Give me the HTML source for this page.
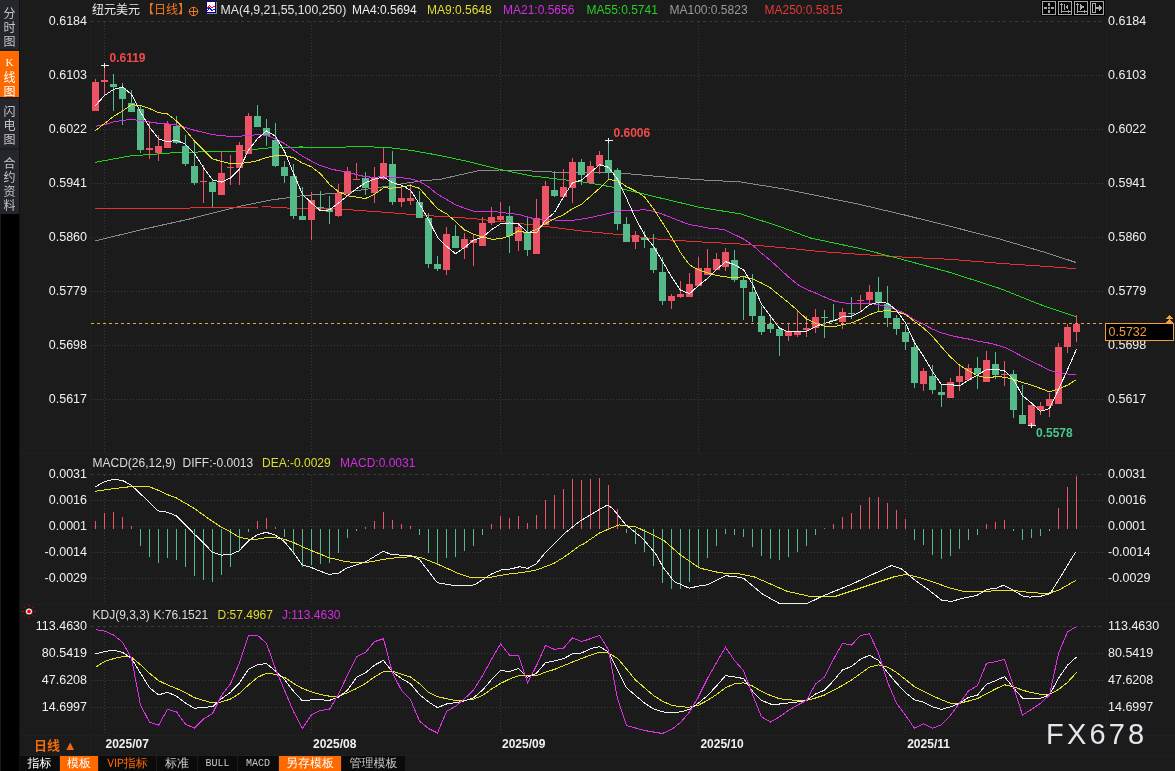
<!DOCTYPE html>
<html><head><meta charset="utf-8"><title>纽元美元 日线</title>
<style>
html,body{margin:0;padding:0;background:#1b1b1b;}
body{width:1175px;height:771px;position:relative;overflow:hidden;font-family:"Liberation Sans","Noto Sans CJK SC",sans-serif;}
#side{position:absolute;left:0;top:0;width:20px;height:214px;background:#25262b;}
#side div{position:absolute;left:0;width:19px;color:#b4b4b4;font-size:12px;line-height:13.5px;text-align:center;font-family:"WenQuanYi Zen Hei","Noto Sans CJK SC",sans-serif;}
#side .on{background:#ff6a00;color:#fff;}
#side .sep{height:1px;background:#1c1d21;}
#blk{position:absolute;left:1px;top:214px;width:18px;height:557px;background:#000;}
#tb{position:absolute;left:20px;top:756px;height:15px;display:flex;}
#tb div{height:15px;line-height:15px;font-size:12px;color:#c8c8c8;background:#0b0b0b;text-align:center;margin-right:1px;font-family:"WenQuanYi Zen Hei","Noto Sans CJK SC",sans-serif;}
#tb .o{background:#ff6a00;color:#fff;}
#tb .ot{color:#ff6a00;}
#tb .m{font-family:"Liberation Mono",monospace;font-size:10px;}
#dl{position:absolute;left:34px;top:737.5px;font-size:13px;font-weight:bold;color:#f06a10;line-height:16px;font-family:"Liberation Sans","Noto Sans CJK SC",sans-serif;}
#wm{position:absolute;left:1046px;top:716px;font-size:29px;letter-spacing:3.2px;color:#e4e6ee;font-family:"Liberation Sans",sans-serif;line-height:36px;}
svg{position:absolute;left:0;top:0;}
.ic{position:absolute;top:1px;width:13px;height:13px;border:1px solid #9a9a9a;background:#050505;box-shadow:0 0 0 1px #000;}
</style></head><body>
<svg width="1175" height="771" viewBox="0 0 1175 771" shape-rendering="crispEdges">
<line x1="91" y1="21.5" x2="1105" y2="21.5" stroke="#3a3a3a" stroke-dasharray="3 3"/>
<line x1="91" y1="75.5" x2="1105" y2="75.5" stroke="#3a3a3a" stroke-dasharray="1 2"/>
<line x1="91" y1="129.5" x2="1105" y2="129.5" stroke="#3a3a3a" stroke-dasharray="1 2"/>
<line x1="91" y1="183.5" x2="1105" y2="183.5" stroke="#3a3a3a" stroke-dasharray="1 2"/>
<line x1="91" y1="237.5" x2="1105" y2="237.5" stroke="#3a3a3a" stroke-dasharray="1 2"/>
<line x1="91" y1="291.5" x2="1105" y2="291.5" stroke="#3a3a3a" stroke-dasharray="1 2"/>
<line x1="91" y1="345.5" x2="1105" y2="345.5" stroke="#3a3a3a" stroke-dasharray="1 2"/>
<line x1="91" y1="399.5" x2="1105" y2="399.5" stroke="#3a3a3a" stroke-dasharray="1 2"/>
<line x1="91" y1="474.5" x2="1105" y2="474.5" stroke="#3a3a3a" stroke-dasharray="3 3"/>
<line x1="91" y1="500.5" x2="1105" y2="500.5" stroke="#3a3a3a" stroke-dasharray="1 2"/>
<line x1="91" y1="526.5" x2="1105" y2="526.5" stroke="#3a3a3a" stroke-dasharray="1 2"/>
<line x1="91" y1="552.5" x2="1105" y2="552.5" stroke="#3a3a3a" stroke-dasharray="1 2"/>
<line x1="91" y1="578.5" x2="1105" y2="578.5" stroke="#3a3a3a" stroke-dasharray="1 2"/>
<line x1="91" y1="626.5" x2="1105" y2="626.5" stroke="#3a3a3a" stroke-dasharray="3 3"/>
<line x1="91" y1="653.5" x2="1105" y2="653.5" stroke="#3a3a3a" stroke-dasharray="1 2"/>
<line x1="91" y1="680.5" x2="1105" y2="680.5" stroke="#3a3a3a" stroke-dasharray="1 2"/>
<line x1="91" y1="707.5" x2="1105" y2="707.5" stroke="#3a3a3a" stroke-dasharray="1 2"/>
<line x1="104.5" y1="22" x2="104.5" y2="453" stroke="#3a3a3a" stroke-dasharray="1 2"/>
<line x1="104.5" y1="475" x2="104.5" y2="604" stroke="#3a3a3a" stroke-dasharray="1 2"/>
<line x1="104.5" y1="627" x2="104.5" y2="736" stroke="#3a3a3a" stroke-dasharray="1 2"/>
<line x1="311.5" y1="22" x2="311.5" y2="453" stroke="#3a3a3a" stroke-dasharray="1 2"/>
<line x1="311.5" y1="475" x2="311.5" y2="604" stroke="#3a3a3a" stroke-dasharray="1 2"/>
<line x1="311.5" y1="627" x2="311.5" y2="736" stroke="#3a3a3a" stroke-dasharray="1 2"/>
<line x1="500.5" y1="22" x2="500.5" y2="453" stroke="#3a3a3a" stroke-dasharray="1 2"/>
<line x1="500.5" y1="475" x2="500.5" y2="604" stroke="#3a3a3a" stroke-dasharray="1 2"/>
<line x1="500.5" y1="627" x2="500.5" y2="736" stroke="#3a3a3a" stroke-dasharray="1 2"/>
<line x1="698.5" y1="22" x2="698.5" y2="453" stroke="#3a3a3a" stroke-dasharray="1 2"/>
<line x1="698.5" y1="475" x2="698.5" y2="604" stroke="#3a3a3a" stroke-dasharray="1 2"/>
<line x1="698.5" y1="627" x2="698.5" y2="736" stroke="#3a3a3a" stroke-dasharray="1 2"/>
<line x1="905.5" y1="22" x2="905.5" y2="453" stroke="#3a3a3a" stroke-dasharray="1 2"/>
<line x1="905.5" y1="475" x2="905.5" y2="604" stroke="#3a3a3a" stroke-dasharray="1 2"/>
<line x1="905.5" y1="627" x2="905.5" y2="736" stroke="#3a3a3a" stroke-dasharray="1 2"/>
<rect x="90" y="0" width="1" height="756" fill="#1f1f1f"/>
<rect x="1106" y="0" width="1" height="736" fill="#1f1f1f"/>
<rect x="20" y="453" width="1155" height="1" fill="#1f1f1f"/>
<rect x="20" y="604" width="1155" height="1" fill="#1f1f1f"/>
<rect x="20" y="735" width="1155" height="1" fill="#1f1f1f"/>
<rect x="20" y="755" width="1155" height="1" fill="#1f1f1f"/>
<polyline points="95.0,241.0 140.0,230.0 190.0,218.9 240.0,206.2 270.0,200.2 300.0,196.0 340.0,192.8 380.0,187.4 420.0,181.0 440.0,179.4 470.0,172.6 480.0,170.4 500.0,170.0 530.0,170.9 560.0,172.4 580.0,172.4 620.0,173.0 660.0,176.6 700.0,179.8 740.0,181.9 780.0,188.3 810.0,194.2 860.0,204.5 900.0,213.9 950.0,226.3 1000.0,239.1 1050.0,253.9 1076.0,262.5" fill="none" stroke="#8a8a8a" stroke-width="1"/>
<polyline points="95.0,208.3 190.0,208.3 191.0,207.2 262.0,207.0 263.0,206.2 270.0,206.2 272.0,207.7 340.0,209.1 380.0,211.9 420.0,215.1 470.0,218.3 500.0,221.5 540.0,225.7 580.0,230.8 620.0,234.7 660.0,239.4 700.0,241.9 740.0,244.0 780.0,247.4 820.0,251.5 860.0,254.4 900.0,256.9 950.0,259.3 1000.0,263.3 1050.0,266.7 1076.0,268.7" fill="none" stroke="#e8302e" stroke-width="1"/>
<polyline points="95.0,162.3 130.0,156.0 180.0,152.3 240.0,151.3 265.0,148.1 300.0,147.0 340.0,147.2 360.0,146.6 387.0,147.4 410.0,150.2 440.0,155.5 470.0,161.9 500.0,169.4 530.0,175.7 560.0,179.4 580.0,181.5 620.0,188.3 660.0,197.9 700.0,207.4 740.0,213.8 780.0,226.6 810.0,237.9 860.0,248.5 900.0,258.8 950.0,272.4 1000.0,288.5 1040.0,304.5 1076.0,316.8" fill="none" stroke="#22d022" stroke-width="1"/>
<rect x="95" y="79" width="1" height="32" fill="#ec5466"/>
<rect x="92" y="82" width="7" height="29" fill="#ec5466"/>
<rect x="104" y="65" width="1" height="30" fill="#ec5466"/>
<rect x="101" y="80" width="7" height="2" fill="#ec5466"/>
<rect x="113" y="74" width="1" height="37" fill="#55b98a"/>
<rect x="110" y="84" width="7" height="3" fill="#55b98a"/>
<rect x="122" y="83" width="1" height="42" fill="#55b98a"/>
<rect x="119" y="88" width="7" height="11" fill="#55b98a"/>
<rect x="131" y="90" width="1" height="22" fill="#55b98a"/>
<rect x="128" y="103" width="7" height="9" fill="#55b98a"/>
<rect x="140" y="106" width="1" height="47" fill="#55b98a"/>
<rect x="137" y="109" width="7" height="41" fill="#55b98a"/>
<rect x="149" y="122" width="1" height="37" fill="#ec5466"/>
<rect x="146" y="148" width="7" height="2" fill="#ec5466"/>
<rect x="158" y="135" width="1" height="26" fill="#ec5466"/>
<rect x="155" y="146" width="7" height="7" fill="#ec5466"/>
<rect x="167" y="121" width="1" height="27" fill="#ec5466"/>
<rect x="164" y="124" width="7" height="24" fill="#ec5466"/>
<rect x="176" y="116" width="1" height="28" fill="#55b98a"/>
<rect x="173" y="126" width="7" height="17" fill="#55b98a"/>
<rect x="185" y="135" width="1" height="31" fill="#55b98a"/>
<rect x="182" y="146" width="7" height="18" fill="#55b98a"/>
<rect x="194" y="141" width="1" height="44" fill="#55b98a"/>
<rect x="191" y="166" width="7" height="17" fill="#55b98a"/>
<rect x="203" y="165" width="1" height="38" fill="#ec5466"/>
<rect x="200" y="181" width="7" height="1" fill="#ec5466"/>
<rect x="212" y="180" width="1" height="27" fill="#55b98a"/>
<rect x="209" y="182" width="7" height="10" fill="#55b98a"/>
<rect x="221" y="151" width="1" height="44" fill="#ec5466"/>
<rect x="218" y="173" width="7" height="22" fill="#ec5466"/>
<rect x="230" y="155" width="1" height="30" fill="#ec5466"/>
<rect x="227" y="167" width="7" height="1" fill="#ec5466"/>
<rect x="239" y="142" width="1" height="43" fill="#ec5466"/>
<rect x="236" y="145" width="7" height="23" fill="#ec5466"/>
<rect x="248" y="113" width="1" height="41" fill="#ec5466"/>
<rect x="245" y="116" width="7" height="38" fill="#ec5466"/>
<rect x="257" y="105" width="1" height="22" fill="#55b98a"/>
<rect x="254" y="116" width="7" height="11" fill="#55b98a"/>
<rect x="266" y="119" width="1" height="27" fill="#55b98a"/>
<rect x="263" y="128" width="7" height="8" fill="#55b98a"/>
<rect x="275" y="123" width="1" height="44" fill="#55b98a"/>
<rect x="272" y="140" width="7" height="26" fill="#55b98a"/>
<rect x="284" y="161" width="1" height="22" fill="#55b98a"/>
<rect x="281" y="167" width="7" height="9" fill="#55b98a"/>
<rect x="293" y="164" width="1" height="55" fill="#55b98a"/>
<rect x="290" y="176" width="7" height="40" fill="#55b98a"/>
<rect x="302" y="187" width="1" height="33" fill="#55b98a"/>
<rect x="299" y="216" width="7" height="4" fill="#55b98a"/>
<rect x="311" y="192" width="1" height="48" fill="#ec5466"/>
<rect x="308" y="200" width="7" height="20" fill="#ec5466"/>
<rect x="320" y="191" width="1" height="20" fill="#55b98a"/>
<rect x="317" y="207" width="7" height="1" fill="#55b98a"/>
<rect x="329" y="196" width="1" height="28" fill="#55b98a"/>
<rect x="326" y="209" width="7" height="3" fill="#55b98a"/>
<rect x="338" y="184" width="1" height="33" fill="#ec5466"/>
<rect x="335" y="193" width="7" height="23" fill="#ec5466"/>
<rect x="347" y="167" width="1" height="27" fill="#ec5466"/>
<rect x="344" y="171" width="7" height="23" fill="#ec5466"/>
<rect x="356" y="163" width="1" height="17" fill="#ec5466"/>
<rect x="353" y="179" width="7" height="1" fill="#ec5466"/>
<rect x="365" y="172" width="1" height="23" fill="#55b98a"/>
<rect x="362" y="178" width="7" height="10" fill="#55b98a"/>
<rect x="374" y="167" width="1" height="36" fill="#ec5466"/>
<rect x="371" y="178" width="7" height="15" fill="#ec5466"/>
<rect x="383" y="148" width="1" height="32" fill="#ec5466"/>
<rect x="380" y="163" width="7" height="16" fill="#ec5466"/>
<rect x="392" y="151" width="1" height="54" fill="#55b98a"/>
<rect x="389" y="164" width="7" height="38" fill="#55b98a"/>
<rect x="401" y="186" width="1" height="21" fill="#ec5466"/>
<rect x="398" y="198" width="7" height="4" fill="#ec5466"/>
<rect x="410" y="184" width="1" height="21" fill="#ec5466"/>
<rect x="407" y="198" width="7" height="3" fill="#ec5466"/>
<rect x="419" y="191" width="1" height="27" fill="#55b98a"/>
<rect x="416" y="202" width="7" height="16" fill="#55b98a"/>
<rect x="428" y="213" width="1" height="55" fill="#55b98a"/>
<rect x="425" y="218" width="7" height="46" fill="#55b98a"/>
<rect x="437" y="256" width="1" height="15" fill="#55b98a"/>
<rect x="434" y="264" width="7" height="5" fill="#55b98a"/>
<rect x="446" y="227" width="1" height="48" fill="#ec5466"/>
<rect x="443" y="234" width="7" height="36" fill="#ec5466"/>
<rect x="455" y="225" width="1" height="23" fill="#55b98a"/>
<rect x="452" y="236" width="7" height="12" fill="#55b98a"/>
<rect x="464" y="233" width="1" height="26" fill="#ec5466"/>
<rect x="461" y="239" width="7" height="9" fill="#ec5466"/>
<rect x="473" y="235" width="1" height="31" fill="#ec5466"/>
<rect x="470" y="240" width="7" height="3" fill="#ec5466"/>
<rect x="482" y="217" width="1" height="29" fill="#ec5466"/>
<rect x="479" y="223" width="7" height="23" fill="#ec5466"/>
<rect x="491" y="207" width="1" height="18" fill="#ec5466"/>
<rect x="488" y="217" width="7" height="6" fill="#ec5466"/>
<rect x="500" y="202" width="1" height="19" fill="#ec5466"/>
<rect x="497" y="216" width="7" height="4" fill="#ec5466"/>
<rect x="509" y="206" width="1" height="47" fill="#55b98a"/>
<rect x="506" y="216" width="7" height="20" fill="#55b98a"/>
<rect x="518" y="225" width="1" height="26" fill="#ec5466"/>
<rect x="515" y="227" width="7" height="14" fill="#ec5466"/>
<rect x="527" y="218" width="1" height="38" fill="#55b98a"/>
<rect x="524" y="232" width="7" height="18" fill="#55b98a"/>
<rect x="536" y="199" width="1" height="55" fill="#ec5466"/>
<rect x="533" y="218" width="7" height="36" fill="#ec5466"/>
<rect x="545" y="181" width="1" height="44" fill="#ec5466"/>
<rect x="542" y="186" width="7" height="39" fill="#ec5466"/>
<rect x="554" y="171" width="1" height="26" fill="#55b98a"/>
<rect x="551" y="190" width="7" height="6" fill="#55b98a"/>
<rect x="563" y="169" width="1" height="28" fill="#ec5466"/>
<rect x="560" y="187" width="7" height="10" fill="#ec5466"/>
<rect x="572" y="158" width="1" height="45" fill="#ec5466"/>
<rect x="569" y="162" width="7" height="26" fill="#ec5466"/>
<rect x="581" y="159" width="1" height="26" fill="#55b98a"/>
<rect x="578" y="162" width="7" height="13" fill="#55b98a"/>
<rect x="590" y="161" width="1" height="22" fill="#ec5466"/>
<rect x="587" y="166" width="7" height="17" fill="#ec5466"/>
<rect x="599" y="151" width="1" height="23" fill="#ec5466"/>
<rect x="596" y="155" width="7" height="11" fill="#ec5466"/>
<rect x="608" y="140" width="1" height="39" fill="#55b98a"/>
<rect x="605" y="160" width="7" height="13" fill="#55b98a"/>
<rect x="617" y="168" width="1" height="62" fill="#55b98a"/>
<rect x="614" y="170" width="7" height="54" fill="#55b98a"/>
<rect x="626" y="217" width="1" height="25" fill="#55b98a"/>
<rect x="623" y="224" width="7" height="18" fill="#55b98a"/>
<rect x="635" y="231" width="1" height="18" fill="#ec5466"/>
<rect x="632" y="235" width="7" height="7" fill="#ec5466"/>
<rect x="644" y="231" width="1" height="17" fill="#55b98a"/>
<rect x="641" y="238" width="7" height="2" fill="#55b98a"/>
<rect x="653" y="234" width="1" height="39" fill="#55b98a"/>
<rect x="650" y="248" width="7" height="22" fill="#55b98a"/>
<rect x="662" y="257" width="1" height="48" fill="#55b98a"/>
<rect x="659" y="272" width="7" height="29" fill="#55b98a"/>
<rect x="671" y="294" width="1" height="15" fill="#ec5466"/>
<rect x="668" y="296" width="7" height="5" fill="#ec5466"/>
<rect x="680" y="281" width="1" height="17" fill="#ec5466"/>
<rect x="677" y="294" width="7" height="3" fill="#ec5466"/>
<rect x="689" y="273" width="1" height="24" fill="#ec5466"/>
<rect x="686" y="284" width="7" height="13" fill="#ec5466"/>
<rect x="698" y="257" width="1" height="29" fill="#ec5466"/>
<rect x="695" y="268" width="7" height="18" fill="#ec5466"/>
<rect x="707" y="249" width="1" height="26" fill="#ec5466"/>
<rect x="704" y="268" width="7" height="7" fill="#ec5466"/>
<rect x="716" y="253" width="1" height="17" fill="#ec5466"/>
<rect x="713" y="259" width="7" height="11" fill="#ec5466"/>
<rect x="725" y="248" width="1" height="23" fill="#ec5466"/>
<rect x="722" y="252" width="7" height="15" fill="#ec5466"/>
<rect x="734" y="250" width="1" height="32" fill="#55b98a"/>
<rect x="731" y="260" width="7" height="20" fill="#55b98a"/>
<rect x="743" y="277" width="1" height="43" fill="#55b98a"/>
<rect x="740" y="280" width="7" height="8" fill="#55b98a"/>
<rect x="752" y="274" width="1" height="48" fill="#55b98a"/>
<rect x="749" y="292" width="7" height="24" fill="#55b98a"/>
<rect x="761" y="306" width="1" height="29" fill="#55b98a"/>
<rect x="758" y="316" width="7" height="16" fill="#55b98a"/>
<rect x="770" y="316" width="1" height="17" fill="#55b98a"/>
<rect x="767" y="324" width="7" height="5" fill="#55b98a"/>
<rect x="779" y="329" width="1" height="27" fill="#55b98a"/>
<rect x="776" y="329" width="7" height="7" fill="#55b98a"/>
<rect x="788" y="324" width="1" height="17" fill="#ec5466"/>
<rect x="785" y="331" width="7" height="5" fill="#ec5466"/>
<rect x="797" y="310" width="1" height="27" fill="#ec5466"/>
<rect x="794" y="331" width="7" height="4" fill="#ec5466"/>
<rect x="806" y="316" width="1" height="21" fill="#ec5466"/>
<rect x="803" y="328" width="7" height="2" fill="#ec5466"/>
<rect x="815" y="309" width="1" height="24" fill="#ec5466"/>
<rect x="812" y="317" width="7" height="11" fill="#ec5466"/>
<rect x="824" y="310" width="1" height="28" fill="#55b98a"/>
<rect x="821" y="317" width="7" height="1" fill="#55b98a"/>
<rect x="833" y="304" width="1" height="17" fill="#55b98a"/>
<rect x="830" y="320" width="7" height="1" fill="#55b98a"/>
<rect x="842" y="308" width="1" height="21" fill="#ec5466"/>
<rect x="839" y="312" width="7" height="10" fill="#ec5466"/>
<rect x="851" y="297" width="1" height="22" fill="#55b98a"/>
<rect x="848" y="313" width="7" height="1" fill="#55b98a"/>
<rect x="860" y="295" width="1" height="15" fill="#ec5466"/>
<rect x="857" y="300" width="7" height="1" fill="#ec5466"/>
<rect x="869" y="285" width="1" height="18" fill="#ec5466"/>
<rect x="866" y="292" width="7" height="8" fill="#ec5466"/>
<rect x="878" y="277" width="1" height="34" fill="#55b98a"/>
<rect x="875" y="292" width="7" height="11" fill="#55b98a"/>
<rect x="887" y="286" width="1" height="41" fill="#55b98a"/>
<rect x="884" y="304" width="7" height="14" fill="#55b98a"/>
<rect x="896" y="315" width="1" height="20" fill="#55b98a"/>
<rect x="893" y="318" width="7" height="11" fill="#55b98a"/>
<rect x="905" y="325" width="1" height="25" fill="#55b98a"/>
<rect x="902" y="332" width="7" height="10" fill="#55b98a"/>
<rect x="914" y="340" width="1" height="48" fill="#55b98a"/>
<rect x="911" y="347" width="7" height="36" fill="#55b98a"/>
<rect x="923" y="368" width="1" height="23" fill="#ec5466"/>
<rect x="920" y="371" width="7" height="13" fill="#ec5466"/>
<rect x="932" y="365" width="1" height="29" fill="#55b98a"/>
<rect x="929" y="376" width="7" height="14" fill="#55b98a"/>
<rect x="941" y="384" width="1" height="23" fill="#55b98a"/>
<rect x="938" y="392" width="7" height="3" fill="#55b98a"/>
<rect x="950" y="378" width="1" height="20" fill="#ec5466"/>
<rect x="947" y="382" width="7" height="16" fill="#ec5466"/>
<rect x="959" y="365" width="1" height="26" fill="#ec5466"/>
<rect x="956" y="376" width="7" height="6" fill="#ec5466"/>
<rect x="968" y="364" width="1" height="16" fill="#ec5466"/>
<rect x="965" y="368" width="7" height="12" fill="#ec5466"/>
<rect x="977" y="357" width="1" height="32" fill="#55b98a"/>
<rect x="974" y="368" width="7" height="6" fill="#55b98a"/>
<rect x="986" y="351" width="1" height="31" fill="#ec5466"/>
<rect x="983" y="360" width="7" height="22" fill="#ec5466"/>
<rect x="995" y="352" width="1" height="27" fill="#55b98a"/>
<rect x="992" y="364" width="7" height="11" fill="#55b98a"/>
<rect x="1004" y="361" width="1" height="25" fill="#ec5466"/>
<rect x="1001" y="374" width="7" height="1" fill="#ec5466"/>
<rect x="1013" y="370" width="1" height="48" fill="#55b98a"/>
<rect x="1010" y="374" width="7" height="36" fill="#55b98a"/>
<rect x="1022" y="385" width="1" height="39" fill="#55b98a"/>
<rect x="1019" y="415" width="7" height="9" fill="#55b98a"/>
<rect x="1031" y="405" width="1" height="21" fill="#ec5466"/>
<rect x="1028" y="405" width="7" height="20" fill="#ec5466"/>
<rect x="1040" y="402" width="1" height="13" fill="#ec5466"/>
<rect x="1037" y="406" width="7" height="4" fill="#ec5466"/>
<rect x="1049" y="393" width="1" height="24" fill="#ec5466"/>
<rect x="1046" y="399" width="7" height="7" fill="#ec5466"/>
<rect x="1058" y="343" width="1" height="61" fill="#ec5466"/>
<rect x="1055" y="347" width="7" height="57" fill="#ec5466"/>
<rect x="1067" y="324" width="1" height="29" fill="#ec5466"/>
<rect x="1064" y="327" width="7" height="20" fill="#ec5466"/>
<rect x="1076" y="315" width="1" height="27" fill="#ec5466"/>
<rect x="1073" y="324" width="7" height="8" fill="#ec5466"/>
<polyline points="95.5,126.3 104.5,124.6 113.5,121.9 122.5,120.4 131.5,119.3 140.5,120.6 149.5,122.0 158.5,123.3 167.5,123.8 176.5,125.0 185.5,127.5 194.5,130.3 203.5,132.4 212.5,134.5 221.5,135.8 230.5,136.2 239.5,136.2 248.5,135.5 257.5,134.7 266.5,135.2 275.5,139.0 284.5,143.5 293.5,149.9 302.5,156.3 311.5,161.1 320.5,165.6 329.5,168.6 338.5,170.7 347.5,171.9 356.5,174.6 365.5,176.7 374.5,177.4 383.5,176.4 392.5,177.4 401.5,177.7 410.5,178.9 419.5,181.3 428.5,187.0 437.5,194.3 446.5,199.4 455.5,204.7 464.5,208.2 473.5,211.3 482.5,211.6 491.5,211.5 500.5,212.2 509.5,213.6 518.5,214.3 527.5,217.0 536.5,219.3 545.5,219.6 554.5,220.0 563.5,220.4 572.5,220.4 581.5,219.1 590.5,217.6 599.5,215.5 608.5,213.4 617.5,211.5 626.5,210.1 635.5,210.2 644.5,209.8 653.5,211.3 662.5,214.2 671.5,217.7 680.5,221.3 689.5,224.6 698.5,226.1 707.5,228.0 716.5,228.5 725.5,230.1 734.5,234.6 743.5,238.9 752.5,245.1 761.5,253.2 770.5,260.5 779.5,268.6 788.5,276.9 797.5,284.5 806.5,289.4 815.5,293.0 824.5,297.0 833.5,300.8 842.5,302.8 851.5,303.5 860.5,303.7 869.5,303.6 878.5,304.5 887.5,306.9 896.5,309.8 905.5,313.7 914.5,319.9 923.5,324.3 932.5,329.1 941.5,332.9 950.5,335.3 959.5,337.5 968.5,339.0 977.5,341.1 986.5,342.5 995.5,344.7 1004.5,347.4 1013.5,351.8 1022.5,356.7 1031.5,361.2 1040.5,365.5 1049.5,370.3 1058.5,372.9 1067.5,374.0 1076.5,374.3" fill="none" stroke="#d42ee0" stroke-width="1"/>
<polyline points="95.5,130.5 104.5,123.5 113.5,116.5 122.5,110.9 131.5,104.7 140.5,105.4 149.5,108.5 158.5,112.6 167.5,114.0 176.5,120.9 185.5,130.2 194.5,140.9 203.5,150.0 212.5,158.9 221.5,161.4 230.5,163.5 239.5,163.4 248.5,162.6 257.5,160.7 266.5,157.6 275.5,155.7 284.5,155.2 293.5,157.9 302.5,163.1 311.5,166.8 320.5,173.8 329.5,184.4 338.5,191.7 347.5,195.7 356.5,197.1 365.5,198.5 374.5,194.3 383.5,187.9 392.5,188.1 401.5,187.0 410.5,185.5 419.5,188.3 428.5,198.6 437.5,208.7 446.5,213.8 455.5,221.5 464.5,230.0 473.5,234.2 482.5,237.0 491.5,239.1 500.5,238.9 509.5,235.8 518.5,231.0 527.5,232.8 536.5,229.5 545.5,223.6 554.5,218.7 563.5,214.8 572.5,208.7 581.5,204.2 590.5,196.4 599.5,188.4 608.5,179.8 617.5,180.4 626.5,186.6 635.5,190.9 644.5,196.8 653.5,208.7 662.5,222.7 671.5,237.2 680.5,252.6 689.5,264.9 698.5,269.9 707.5,272.8 716.5,275.5 725.5,276.8 734.5,278.0 743.5,276.5 752.5,278.8 761.5,283.0 770.5,288.0 779.5,295.5 788.5,302.5 797.5,310.5 806.5,319.0 815.5,323.1 824.5,326.3 833.5,326.9 842.5,324.7 851.5,323.0 860.5,319.1 869.5,314.7 878.5,311.6 887.5,310.5 896.5,311.8 905.5,314.5 914.5,321.4 923.5,328.0 932.5,336.4 941.5,346.9 950.5,357.0 959.5,365.1 968.5,370.6 977.5,375.7 986.5,377.7 995.5,376.8 1004.5,377.1 1013.5,379.3 1022.5,382.5 1031.5,385.1 1040.5,388.4 1049.5,391.9 1058.5,388.9 1067.5,385.2 1076.5,379.5" fill="none" stroke="#e6e22a" stroke-width="1"/>
<polyline points="95.5,105.6 104.5,95.5 113.5,89.5 122.5,86.9 131.5,94.4 140.5,111.8 149.5,127.1 158.5,138.8 167.5,141.8 176.5,140.2 185.5,144.2 194.5,153.4 203.5,167.7 212.5,179.8 221.5,182.0 230.5,178.0 239.5,169.1 248.5,150.1 257.5,138.7 266.5,130.9 275.5,136.2 284.5,151.2 293.5,173.3 302.5,194.4 311.5,202.9 320.5,210.8 329.5,209.9 338.5,203.0 347.5,195.8 356.5,188.6 365.5,182.8 374.5,179.1 383.5,176.9 392.5,182.7 401.5,185.2 410.5,190.2 419.5,204.0 428.5,219.5 437.5,237.3 446.5,246.3 455.5,253.8 464.5,247.5 473.5,240.2 482.5,237.3 491.5,229.7 500.5,223.9 509.5,222.9 518.5,224.0 527.5,232.2 536.5,232.8 545.5,220.3 554.5,212.5 563.5,196.8 572.5,182.8 581.5,180.1 590.5,172.6 599.5,164.7 608.5,167.3 617.5,179.3 626.5,198.3 635.5,218.1 644.5,235.0 653.5,246.5 662.5,261.3 671.5,276.6 680.5,290.1 689.5,293.7 698.5,285.5 707.5,278.4 716.5,269.6 725.5,261.7 734.5,264.7 743.5,269.8 752.5,284.1 761.5,304.1 770.5,316.3 779.5,328.2 788.5,331.9 797.5,331.6 806.5,331.4 815.5,326.6 824.5,323.4 833.5,320.9 842.5,316.9 851.5,316.3 860.5,311.9 869.5,304.6 878.5,302.4 887.5,303.1 896.5,310.3 905.5,322.9 914.5,342.8 923.5,356.2 932.5,371.5 941.5,384.8 950.5,384.6 959.5,385.8 968.5,380.2 977.5,375.1 986.5,369.5 995.5,369.2 1004.5,370.8 1013.5,379.6 1022.5,395.6 1031.5,403.1 1040.5,411.2 1049.5,408.6 1058.5,389.4 1067.5,369.8 1076.5,349.2" fill="none" stroke="#f0f0f0" stroke-width="1"/>
<rect x="101" y="65" width="8" height="1" fill="#f0f0f0"/><rect x="104" y="63" width="1" height="5" fill="#f0f0f0"/>
<rect x="605" y="140" width="8" height="1" fill="#f0f0f0"/><rect x="608" y="138" width="1" height="5" fill="#f0f0f0"/>
<rect x="1028" y="425" width="8" height="1" fill="#f0f0f0"/><rect x="1031" y="423" width="1" height="5" fill="#f0f0f0"/>
<rect x="95" y="521" width="1" height="8" fill="#ec5466"/>
<rect x="104" y="513" width="1" height="16" fill="#ec5466"/>
<rect x="113" y="512" width="1" height="17" fill="#ec5466"/>
<rect x="122" y="517" width="1" height="12" fill="#ec5466"/>
<rect x="131" y="526" width="1" height="3" fill="#ec5466"/>
<rect x="140" y="529" width="1" height="17" fill="#55b98a"/>
<rect x="149" y="529" width="1" height="28" fill="#55b98a"/>
<rect x="158" y="529" width="1" height="34" fill="#55b98a"/>
<rect x="167" y="529" width="1" height="29" fill="#55b98a"/>
<rect x="176" y="529" width="1" height="31" fill="#55b98a"/>
<rect x="185" y="529" width="1" height="38" fill="#55b98a"/>
<rect x="194" y="529" width="1" height="47" fill="#55b98a"/>
<rect x="203" y="529" width="1" height="51" fill="#55b98a"/>
<rect x="212" y="529" width="1" height="53" fill="#55b98a"/>
<rect x="221" y="529" width="1" height="46" fill="#55b98a"/>
<rect x="230" y="529" width="1" height="38" fill="#55b98a"/>
<rect x="239" y="529" width="1" height="22" fill="#55b98a"/>
<rect x="248" y="529" width="1" height="3" fill="#55b98a"/>
<rect x="257" y="521" width="1" height="8" fill="#ec5466"/>
<rect x="266" y="518" width="1" height="11" fill="#ec5466"/>
<rect x="275" y="527" width="1" height="2" fill="#ec5466"/>
<rect x="284" y="529" width="1" height="8" fill="#55b98a"/>
<rect x="293" y="529" width="1" height="25" fill="#55b98a"/>
<rect x="302" y="529" width="1" height="38" fill="#55b98a"/>
<rect x="311" y="529" width="1" height="36" fill="#55b98a"/>
<rect x="320" y="529" width="1" height="35" fill="#55b98a"/>
<rect x="329" y="529" width="1" height="34" fill="#55b98a"/>
<rect x="338" y="529" width="1" height="24" fill="#55b98a"/>
<rect x="347" y="529" width="1" height="9" fill="#55b98a"/>
<rect x="356" y="529" width="1" height="2" fill="#55b98a"/>
<rect x="365" y="527" width="1" height="2" fill="#ec5466"/>
<rect x="374" y="521" width="1" height="8" fill="#ec5466"/>
<rect x="383" y="512" width="1" height="17" fill="#ec5466"/>
<rect x="392" y="520" width="1" height="9" fill="#ec5466"/>
<rect x="401" y="524" width="1" height="5" fill="#ec5466"/>
<rect x="410" y="526" width="1" height="3" fill="#ec5466"/>
<rect x="419" y="529" width="1" height="6" fill="#55b98a"/>
<rect x="428" y="529" width="1" height="24" fill="#55b98a"/>
<rect x="437" y="529" width="1" height="36" fill="#55b98a"/>
<rect x="446" y="529" width="1" height="29" fill="#55b98a"/>
<rect x="455" y="529" width="1" height="28" fill="#55b98a"/>
<rect x="464" y="529" width="1" height="22" fill="#55b98a"/>
<rect x="473" y="529" width="1" height="17" fill="#55b98a"/>
<rect x="482" y="529" width="1" height="6" fill="#55b98a"/>
<rect x="491" y="524" width="1" height="5" fill="#ec5466"/>
<rect x="500" y="516" width="1" height="13" fill="#ec5466"/>
<rect x="509" y="518" width="1" height="11" fill="#ec5466"/>
<rect x="518" y="516" width="1" height="13" fill="#ec5466"/>
<rect x="527" y="523" width="1" height="6" fill="#ec5466"/>
<rect x="536" y="515" width="1" height="14" fill="#ec5466"/>
<rect x="545" y="500" width="1" height="29" fill="#ec5466"/>
<rect x="554" y="495" width="1" height="34" fill="#ec5466"/>
<rect x="563" y="489" width="1" height="40" fill="#ec5466"/>
<rect x="572" y="479" width="1" height="50" fill="#ec5466"/>
<rect x="581" y="480" width="1" height="49" fill="#ec5466"/>
<rect x="590" y="479" width="1" height="50" fill="#ec5466"/>
<rect x="599" y="478" width="1" height="51" fill="#ec5466"/>
<rect x="608" y="485" width="1" height="44" fill="#ec5466"/>
<rect x="617" y="509" width="1" height="20" fill="#ec5466"/>
<rect x="626" y="529" width="1" height="4" fill="#55b98a"/>
<rect x="635" y="529" width="1" height="15" fill="#55b98a"/>
<rect x="644" y="529" width="1" height="23" fill="#55b98a"/>
<rect x="653" y="529" width="1" height="37" fill="#55b98a"/>
<rect x="662" y="529" width="1" height="54" fill="#55b98a"/>
<rect x="671" y="529" width="1" height="60" fill="#55b98a"/>
<rect x="680" y="529" width="1" height="60" fill="#55b98a"/>
<rect x="689" y="529" width="1" height="53" fill="#55b98a"/>
<rect x="698" y="529" width="1" height="39" fill="#55b98a"/>
<rect x="707" y="529" width="1" height="29" fill="#55b98a"/>
<rect x="716" y="529" width="1" height="17" fill="#55b98a"/>
<rect x="725" y="529" width="1" height="5" fill="#55b98a"/>
<rect x="734" y="529" width="1" height="6" fill="#55b98a"/>
<rect x="743" y="529" width="1" height="8" fill="#55b98a"/>
<rect x="752" y="529" width="1" height="18" fill="#55b98a"/>
<rect x="761" y="529" width="1" height="27" fill="#55b98a"/>
<rect x="770" y="529" width="1" height="30" fill="#55b98a"/>
<rect x="779" y="529" width="1" height="31" fill="#55b98a"/>
<rect x="788" y="529" width="1" height="28" fill="#55b98a"/>
<rect x="797" y="529" width="1" height="23" fill="#55b98a"/>
<rect x="806" y="529" width="1" height="17" fill="#55b98a"/>
<rect x="815" y="529" width="1" height="6" fill="#55b98a"/>
<rect x="824" y="528" width="1" height="1" fill="#ec5466"/>
<rect x="833" y="524" width="1" height="5" fill="#ec5466"/>
<rect x="842" y="517" width="1" height="12" fill="#ec5466"/>
<rect x="851" y="513" width="1" height="16" fill="#ec5466"/>
<rect x="860" y="505" width="1" height="24" fill="#ec5466"/>
<rect x="869" y="497" width="1" height="32" fill="#ec5466"/>
<rect x="878" y="497" width="1" height="32" fill="#ec5466"/>
<rect x="887" y="503" width="1" height="26" fill="#ec5466"/>
<rect x="896" y="510" width="1" height="19" fill="#ec5466"/>
<rect x="905" y="519" width="1" height="10" fill="#ec5466"/>
<rect x="914" y="529" width="1" height="11" fill="#55b98a"/>
<rect x="923" y="529" width="1" height="16" fill="#55b98a"/>
<rect x="932" y="529" width="1" height="26" fill="#55b98a"/>
<rect x="941" y="529" width="1" height="30" fill="#55b98a"/>
<rect x="950" y="529" width="1" height="27" fill="#55b98a"/>
<rect x="959" y="529" width="1" height="20" fill="#55b98a"/>
<rect x="968" y="529" width="1" height="11" fill="#55b98a"/>
<rect x="977" y="529" width="1" height="6" fill="#55b98a"/>
<rect x="986" y="524" width="1" height="5" fill="#ec5466"/>
<rect x="995" y="522" width="1" height="7" fill="#ec5466"/>
<rect x="1004" y="520" width="1" height="9" fill="#ec5466"/>
<rect x="1013" y="529" width="1" height="2" fill="#55b98a"/>
<rect x="1022" y="529" width="1" height="11" fill="#55b98a"/>
<rect x="1031" y="529" width="1" height="9" fill="#55b98a"/>
<rect x="1040" y="529" width="1" height="7" fill="#55b98a"/>
<rect x="1049" y="529" width="1" height="2" fill="#55b98a"/>
<rect x="1058" y="508" width="1" height="21" fill="#ec5466"/>
<rect x="1067" y="487" width="1" height="42" fill="#ec5466"/>
<rect x="1076" y="476" width="1" height="53" fill="#ec5466"/>
<polyline points="95.0,491.3 113.0,488.7 131.0,486.6 140.0,486.0 149.0,486.6 158.0,490.2 167.0,494.5 176.0,497.7 185.0,503.0 194.0,508.3 203.0,514.7 212.0,521.1 221.0,527.0 230.0,531.7 239.0,537.0 248.0,539.1 257.0,539.1 266.0,537.7 275.0,537.7 284.0,539.1 293.0,542.3 302.0,546.6 311.0,550.4 320.0,554.0 329.0,557.7 347.0,561.9 366.2,562.6 383.2,559.4 400.2,557.2 415.1,556.8 421.5,557.7 436.4,563.6 457.7,573.2 470.4,577.4 489.6,577.4 506.6,574.3 521.5,572.6 536.4,570.0 553.4,563.6 564.0,557.2 580.0,545.5 582.8,544.5 599.8,532.8 618.9,524.9 636.0,527.0 650.9,533.8 663.6,540.2 680.6,555.1 697.7,566.8 700.0,568.2 720.4,572.9 738.1,573.6 754.5,577.0 787.1,591.3 808.9,596.1 822.5,596.5 836.2,596.1 893.9,576.9 905.8,574.5 920.1,577.6 934.4,582.4 948.7,587.6 965.4,591.9 982.1,591.9 1001.1,590.0 1015.4,590.7 1029.7,592.4 1046.4,593.6 1058.3,590.5 1075.7,580.5" fill="none" stroke="#e6e22a" stroke-width="1"/>
<polyline points="95.0,487.0 104.5,481.7 113.0,479.6 122.0,480.2 131.0,484.9 140.0,493.4 149.0,501.9 158.0,510.9 167.0,512.1 176.0,515.7 185.0,524.3 194.0,533.8 203.0,542.3 212.0,551.9 221.0,555.1 230.0,554.7 239.0,550.9 248.0,541.3 257.0,534.9 266.0,532.3 275.0,534.9 284.0,541.3 293.0,551.9 302.0,564.7 311.0,567.4 320.0,571.1 329.0,574.3 338.5,573.2 347.0,567.9 366.2,561.5 383.2,551.3 391.7,554.7 410.9,555.5 419.4,559.4 437.4,582.8 457.7,586.0 474.7,584.9 491.7,573.8 502.3,569.6 510.9,568.9 519.4,566.8 527.9,568.3 536.4,563.6 544.9,553.0 564.0,533.8 580.0,521.1 597.7,510.4 607.2,505.1 612.6,508.3 625.3,524.3 642.3,538.1 655.1,553.0 663.6,567.9 674.3,581.7 689.1,588.1 700.0,585.9 706.2,584.9 708.2,584.5 725.9,575.7 736.8,577.0 743.6,578.4 762.6,594.1 779.0,603.3 807.6,603.3 822.5,596.1 851.1,584.5 891.5,565.5 901.0,568.6 907.0,573.3 915.3,580.5 927.2,588.8 941.5,600.0 951.1,601.4 963.0,598.3 977.3,595.2 986.8,589.5 996.4,588.1 1003.5,585.2 1013.0,590.0 1022.6,596.0 1029.7,597.1 1041.6,596.0 1050.0,593.6 1058.3,580.5 1075.7,551.9" fill="none" stroke="#f0f0f0" stroke-width="1"/>
<polyline points="95.5,667.2 104.5,661.5 113.5,658.7 122.5,656.6 131.5,657.2 140.5,664.7 149.5,673.2 158.5,680.6 167.5,684.9 176.5,688.5 185.5,692.8 194.5,697.7 203.5,700.4 212.5,703.0 221.5,701.9 230.5,699.1 239.5,693.4 248.5,684.9 257.5,677.4 266.5,673.2 275.5,674.3 284.5,677.4 293.5,683.4 302.5,688.5 311.5,691.9 320.5,694.5 329.5,696.2 338.5,696.2 347.5,692.8 356.5,688.5 365.5,683.4 374.5,677.0 383.5,671.5 392.5,671.1 401.5,674.3 410.5,677.0 419.5,683.8 428.5,692.3 437.5,696.6 446.5,698.7 455.5,700.4 464.5,700.4 473.5,699.1 482.5,695.5 491.5,689.1 500.5,683.4 509.5,679.1 518.5,675.7 527.5,675.7 536.5,675.7 545.5,672.1 554.5,669.4 563.5,665.7 572.5,662.0 581.5,658.5 590.5,655.1 599.5,652.3 608.5,653.0 617.5,658.3 626.5,668.9 635.5,680.0 644.5,687.7 653.5,695.5 662.5,701.3 671.5,705.1 680.5,706.8 689.5,707.2 698.5,705.1 707.5,700.4 716.5,694.5 725.5,687.7 734.5,683.8 743.5,682.8 752.5,686.0 761.5,691.3 770.5,695.5 779.5,698.7 788.5,699.8 797.5,700.4 806.5,700.4 815.5,698.0 824.5,695.0 833.5,690.2 842.5,685.5 851.5,680.0 860.5,673.6 869.5,667.1 878.5,664.8 887.5,667.1 896.5,672.4 905.5,679.5 914.5,686.7 923.5,691.4 932.5,695.7 941.5,699.8 950.5,703.3 959.5,703.3 968.5,701.0 977.5,698.6 986.5,693.8 995.5,689.0 1004.5,684.8 1013.5,686.7 1022.5,690.2 1031.5,692.6 1040.5,694.3 1049.5,694.3 1058.5,689.5 1067.5,682.4 1076.5,672.5" fill="none" stroke="#e6e22a" stroke-width="1"/>
<polyline points="95.5,654.0 104.5,651.5 113.5,650.2 122.5,652.3 131.5,658.3 140.5,673.2 149.5,687.7 158.5,694.9 167.5,692.3 176.5,696.2 185.5,703.0 194.5,708.3 203.5,707.2 212.5,706.8 221.5,698.7 230.5,692.3 239.5,682.8 248.5,669.4 257.5,664.7 266.5,663.6 275.5,671.1 284.5,679.6 293.5,691.3 302.5,700.9 311.5,699.8 320.5,699.8 329.5,700.4 338.5,697.0 347.5,690.2 356.5,677.4 365.5,672.8 374.5,665.1 383.5,660.4 392.5,672.1 401.5,678.5 410.5,683.8 419.5,694.5 428.5,701.9 437.5,707.7 446.5,704.0 455.5,702.6 464.5,700.9 473.5,697.7 482.5,690.2 491.5,679.6 500.5,670.6 509.5,671.5 518.5,668.5 527.5,677.4 536.5,673.2 545.5,662.6 554.5,660.9 563.5,658.7 572.5,653.8 581.5,653.0 590.5,648.7 599.5,646.6 608.5,651.9 617.5,670.0 626.5,687.7 635.5,695.5 644.5,703.0 653.5,708.9 662.5,711.9 671.5,712.6 680.5,711.9 689.5,709.4 698.5,703.0 707.5,695.5 716.5,686.0 725.5,675.7 734.5,677.0 743.5,678.5 752.5,691.3 761.5,700.4 770.5,704.0 779.5,704.0 788.5,703.0 797.5,701.9 806.5,700.4 815.5,694.0 824.5,690.2 833.5,680.7 842.5,670.0 851.5,666.4 860.5,659.3 869.5,655.2 878.5,660.5 887.5,672.4 896.5,683.1 905.5,692.6 914.5,699.8 923.5,702.1 932.5,706.9 941.5,709.3 950.5,706.9 959.5,703.3 968.5,697.4 977.5,695.0 986.5,684.3 995.5,680.7 1004.5,676.7 1013.5,687.9 1022.5,698.1 1031.5,698.1 1040.5,698.1 1049.5,695.0 1058.5,678.3 1067.5,665.2 1076.5,657.0" fill="none" stroke="#f0f0f0" stroke-width="1"/>
<polyline points="95.5,629.6 104.5,631.1 113.5,634.9 122.5,642.3 131.5,658.3 140.5,705.1 149.5,722.1 158.5,725.3 167.5,709.4 176.5,711.9 185.5,724.3 194.5,728.1 203.5,718.9 212.5,713.6 221.5,695.5 230.5,683.8 239.5,662.6 248.5,635.3 257.5,635.3 266.5,643.4 275.5,668.9 284.5,690.2 293.5,711.5 302.5,728.5 311.5,714.7 320.5,710.4 329.5,709.4 338.5,694.0 347.5,675.3 356.5,656.6 365.5,652.3 374.5,641.7 383.5,638.7 392.5,673.2 401.5,690.2 410.5,699.8 419.5,721.1 428.5,728.5 437.5,733.0 446.5,711.5 455.5,706.2 464.5,698.7 473.5,690.2 482.5,675.7 491.5,659.4 500.5,643.8 509.5,655.1 518.5,655.7 527.5,682.8 536.5,665.7 545.5,645.5 554.5,649.4 563.5,648.1 572.5,637.8 581.5,641.6 590.5,638.7 599.5,635.3 608.5,649.8 617.5,698.7 626.5,725.5 635.5,728.0 644.5,730.5 653.5,732.0 662.5,733.5 671.5,729.5 680.5,722.5 689.5,712.0 698.5,696.6 707.5,678.5 716.5,662.6 725.5,647.2 734.5,660.4 743.5,670.6 752.5,694.5 761.5,716.8 770.5,722.1 779.5,716.8 788.5,710.4 797.5,705.1 806.5,700.4 815.5,684.0 824.5,677.1 833.5,659.3 842.5,643.3 851.5,645.0 860.5,635.5 869.5,633.8 878.5,653.3 887.5,681.9 896.5,703.3 905.5,715.2 914.5,728.3 923.5,723.6 932.5,728.3 941.5,724.8 950.5,715.2 959.5,703.3 968.5,691.0 977.5,685.5 986.5,663.3 995.5,661.7 1004.5,659.3 1013.5,686.7 1022.5,715.2 1031.5,709.3 1040.5,703.3 1049.5,695.0 1058.5,653.3 1067.5,631.9 1076.5,626.5" fill="none" stroke="#e030e8" stroke-width="1"/>
<line x1="91" y1="323.5" x2="1104" y2="323.5" stroke="#f0a040" stroke-dasharray="3 3"/>
<polygon points="1165,319 1169,315 1173,319" fill="#f0a040"/><polygon points="1165,323 1169,319 1173,323" fill="#f0a040"/>
<rect x="0" y="0" width="20" height="214" fill="#25262b"/>
<rect x="0" y="49" width="20" height="2" fill="#1d1e22"/>
<rect x="0" y="97" width="20" height="2" fill="#1d1e22"/>
<rect x="0" y="148" width="20" height="2" fill="#1d1e22"/>
<rect x="0" y="51" width="19" height="46" fill="#ff6a00"/>
<rect x="1" y="214" width="18" height="557" fill="#000"/>
<rect x="19" y="0" width="1" height="771" fill="#111"/>
<circle cx="193.5" cy="11.5" r="4.2" fill="none" stroke="#f07820" stroke-width="1" shape-rendering="auto"/>
<rect x="189" y="11" width="9" height="1" fill="#f07820"/><rect x="193" y="7" width="1" height="9" fill="#f07820"/>
<rect x="207" y="2" width="10" height="12" fill="#888"/>
<rect x="206" y="1" width="10" height="12" fill="#00008c"/>
<rect x="207" y="2" width="8" height="10" fill="#ffffff"/>
<polyline points="207,9 209.5,5.5 212,8 214.5,6" fill="none" stroke="#ff0000" stroke-width="1"/>
<polyline points="207,11 209.5,8 212,10.5 214.5,9" fill="none" stroke="#0000ff" stroke-width="1"/>
<rect x="1041" y="0" width="16" height="16" fill="#000"/>
<rect x="1042.5" y="1.5" width="13" height="13" fill="#050505" stroke="#a8a8a8" stroke-width="1"/>
<rect x="1057" y="0" width="16" height="16" fill="#000"/>
<rect x="1058.5" y="1.5" width="13" height="13" fill="#050505" stroke="#a8a8a8" stroke-width="1"/>
<rect x="1073" y="0" width="16" height="16" fill="#000"/>
<rect x="1074.5" y="1.5" width="13" height="13" fill="#050505" stroke="#a8a8a8" stroke-width="1"/>
<rect x="1089" y="0" width="16" height="16" fill="#000"/>
<rect x="1090.5" y="1.5" width="13" height="13" fill="#050505" stroke="#a8a8a8" stroke-width="1"/>
<rect x="1048" y="3" width="2" height="3" fill="#a8a8a8"/>
<rect x="1048" y="7" width="2" height="2" fill="#a8a8a8"/>
<rect x="1048" y="10" width="2" height="3" fill="#a8a8a8"/>
<rect x="1044" y="7" width="3" height="2" fill="#a8a8a8"/>
<rect x="1051" y="7" width="3" height="2" fill="#a8a8a8"/>
<rect x="1061" y="3" width="1" height="10" fill="#a8a8a8"/><rect x="1061" y="11" width="9" height="1" fill="#a8a8a8"/>
<polygon points="1059.5,5 1061.5,2.5 1063.5,5" fill="#a8a8a8"/><polygon points="1068,9.5 1070.5,11.5 1068,13.5" fill="#a8a8a8"/>
<rect x="1077" y="3" width="1" height="10" fill="#a8a8a8"/><rect x="1077" y="11" width="9" height="1" fill="#a8a8a8"/>
<polygon points="1075.5,5 1077.5,2.5 1079.5,5" fill="#a8a8a8"/><polygon points="1084,9.5 1086.5,11.5 1084,13.5" fill="#a8a8a8"/>
<rect x="1064" y="4" width="1" height="6" fill="#a8a8a8"/><polygon points="1068,4 1065.5,7 1068,10" fill="#a8a8a8"/>
<polygon points="1080,4 1084.5,7 1080,10" fill="#a8a8a8"/>
<rect x="1092.5" y="3.5" width="3" height="9" fill="none" stroke="#a8a8a8"/><rect x="1096" y="7" width="4" height="2" fill="#a8a8a8"/><polygon points="1099,5 1102,8 1099,11" fill="#a8a8a8"/>
<g shape-rendering="auto"><circle cx="29" cy="611.5" r="3.6" fill="#fff" stroke="#000" stroke-width="0.8"/><circle cx="29" cy="611.5" r="1.9" fill="#ff0000"/>
<line x1="34.20" y1="611.50" x2="35.80" y2="611.50" stroke="#ff0000" stroke-width="0.9"/>
<line x1="32.68" y1="615.18" x2="33.81" y2="616.31" stroke="#ff0000" stroke-width="0.9"/>
<line x1="29.00" y1="616.70" x2="29.00" y2="618.30" stroke="#ff0000" stroke-width="0.9"/>
<line x1="25.32" y1="615.18" x2="24.19" y2="616.31" stroke="#ff0000" stroke-width="0.9"/>
<line x1="23.80" y1="611.50" x2="22.20" y2="611.50" stroke="#ff0000" stroke-width="0.9"/>
<line x1="25.32" y1="607.82" x2="24.19" y2="606.69" stroke="#ff0000" stroke-width="0.9"/>
<line x1="29.00" y1="606.30" x2="29.00" y2="604.70" stroke="#ff0000" stroke-width="0.9"/>
<line x1="32.68" y1="607.82" x2="33.81" y2="606.69" stroke="#ff0000" stroke-width="0.9"/>
</g>
<g font-family="Liberation Sans, Noto Sans CJK SC, sans-serif">
<text x="87" y="25.2" fill="#f0f0f0" font-size="12.5" text-anchor="end" font-weight="normal" >0.6184</text>
<text x="1108" y="25.2" fill="#f0f0f0" font-size="12.5" text-anchor="start" font-weight="normal" >0.6184</text>
<text x="87" y="79.2" fill="#f0f0f0" font-size="12.5" text-anchor="end" font-weight="normal" >0.6103</text>
<text x="1108" y="79.2" fill="#f0f0f0" font-size="12.5" text-anchor="start" font-weight="normal" >0.6103</text>
<text x="87" y="133.2" fill="#f0f0f0" font-size="12.5" text-anchor="end" font-weight="normal" >0.6022</text>
<text x="1108" y="133.2" fill="#f0f0f0" font-size="12.5" text-anchor="start" font-weight="normal" >0.6022</text>
<text x="87" y="187.2" fill="#f0f0f0" font-size="12.5" text-anchor="end" font-weight="normal" >0.5941</text>
<text x="1108" y="187.2" fill="#f0f0f0" font-size="12.5" text-anchor="start" font-weight="normal" >0.5941</text>
<text x="87" y="241.2" fill="#f0f0f0" font-size="12.5" text-anchor="end" font-weight="normal" >0.5860</text>
<text x="1108" y="241.2" fill="#f0f0f0" font-size="12.5" text-anchor="start" font-weight="normal" >0.5860</text>
<text x="87" y="295.2" fill="#f0f0f0" font-size="12.5" text-anchor="end" font-weight="normal" >0.5779</text>
<text x="1108" y="295.2" fill="#f0f0f0" font-size="12.5" text-anchor="start" font-weight="normal" >0.5779</text>
<text x="87" y="349.2" fill="#f0f0f0" font-size="12.5" text-anchor="end" font-weight="normal" >0.5698</text>
<text x="1108" y="349.2" fill="#f0f0f0" font-size="12.5" text-anchor="start" font-weight="normal" >0.5698</text>
<text x="87" y="403.2" fill="#f0f0f0" font-size="12.5" text-anchor="end" font-weight="normal" >0.5617</text>
<text x="1108" y="403.2" fill="#f0f0f0" font-size="12.5" text-anchor="start" font-weight="normal" >0.5617</text>
<text x="87" y="478.2" fill="#f0f0f0" font-size="12.5" text-anchor="end" font-weight="normal" >0.0031</text>
<text x="1108" y="478.2" fill="#f0f0f0" font-size="12.5" text-anchor="start" font-weight="normal" >0.0031</text>
<text x="87" y="504.2" fill="#f0f0f0" font-size="12.5" text-anchor="end" font-weight="normal" >0.0016</text>
<text x="1108" y="504.2" fill="#f0f0f0" font-size="12.5" text-anchor="start" font-weight="normal" >0.0016</text>
<text x="87" y="530.2" fill="#f0f0f0" font-size="12.5" text-anchor="end" font-weight="normal" >0.0001</text>
<text x="1108" y="530.2" fill="#f0f0f0" font-size="12.5" text-anchor="start" font-weight="normal" >0.0001</text>
<text x="87" y="556.2" fill="#f0f0f0" font-size="12.5" text-anchor="end" font-weight="normal" >-0.0014</text>
<text x="1108" y="556.2" fill="#f0f0f0" font-size="12.5" text-anchor="start" font-weight="normal" >-0.0014</text>
<text x="87" y="582.2" fill="#f0f0f0" font-size="12.5" text-anchor="end" font-weight="normal" >-0.0029</text>
<text x="1108" y="582.2" fill="#f0f0f0" font-size="12.5" text-anchor="start" font-weight="normal" >-0.0029</text>
<text x="87" y="630.2" fill="#f0f0f0" font-size="12.5" text-anchor="end" font-weight="normal" >113.4630</text>
<text x="1108" y="630.2" fill="#f0f0f0" font-size="12.5" text-anchor="start" font-weight="normal" >113.4630</text>
<text x="87" y="657.2" fill="#f0f0f0" font-size="12.5" text-anchor="end" font-weight="normal" >80.5419</text>
<text x="1108" y="657.2" fill="#f0f0f0" font-size="12.5" text-anchor="start" font-weight="normal" >80.5419</text>
<text x="87" y="684.2" fill="#f0f0f0" font-size="12.5" text-anchor="end" font-weight="normal" >47.6208</text>
<text x="1108" y="684.2" fill="#f0f0f0" font-size="12.5" text-anchor="start" font-weight="normal" >47.6208</text>
<text x="87" y="711.2" fill="#f0f0f0" font-size="12.5" text-anchor="end" font-weight="normal" >14.6997</text>
<text x="1108" y="711.2" fill="#f0f0f0" font-size="12.5" text-anchor="start" font-weight="normal" >14.6997</text>
<text x="109.5" y="61.9" fill="#f04a4a" font-size="12" text-anchor="start" font-weight="bold" >0.6119</text>
<text x="613.5" y="137" fill="#f04a4a" font-size="12" text-anchor="start" font-weight="bold" >0.6006</text>
<text x="1036" y="437" fill="#4cc58e" font-size="12" text-anchor="start" font-weight="bold" >0.5578</text>
<text x="92" y="14" fill="#e8e8e8" font-size="12" text-anchor="start" font-weight="normal" >纽元美元</text>
<text x="142" y="14" fill="#f07820" font-size="12" text-anchor="start" font-weight="normal" >【日线】</text>
<text x="220.5" y="14" fill="#e4e4e4" font-size="12.3" text-anchor="start" font-weight="normal" >MA(4,9,21,55,100,250)</text>
<text x="352" y="14" fill="#eeeeee" font-size="12" text-anchor="start" font-weight="normal" >MA4:0.5694</text>
<text x="427" y="14" fill="#e0dc30" font-size="12" text-anchor="start" font-weight="normal" >MA9:0.5648</text>
<text x="503" y="14" fill="#d02ee0" font-size="12" text-anchor="start" font-weight="normal" >MA21:0.5656</text>
<text x="586.5" y="14" fill="#22d022" font-size="12" text-anchor="start" font-weight="normal" >MA55:0.5741</text>
<text x="669.5" y="14" fill="#999999" font-size="12" text-anchor="start" font-weight="normal" >MA100:0.5823</text>
<text x="764.5" y="14" fill="#e83838" font-size="12" text-anchor="start" font-weight="normal" >MA250:0.5815</text>
<text x="92.5" y="467" fill="#dcdcdc" font-size="12" text-anchor="start" font-weight="normal" >MACD(26,12,9)</text>
<text x="182.5" y="467" fill="#dcdcdc" font-size="12" text-anchor="start" font-weight="normal" >DIFF:-0.0013</text>
<text x="262" y="467" fill="#e0dc30" font-size="12" text-anchor="start" font-weight="normal" >DEA:-0.0029</text>
<text x="340" y="467" fill="#d02ee0" font-size="12" text-anchor="start" font-weight="normal" >MACD:0.0031</text>
<text x="92.5" y="618.7" fill="#dcdcdc" font-size="12" text-anchor="start" font-weight="normal" >KDJ(9,3,3)</text>
<text x="153.4" y="618.7" fill="#dcdcdc" font-size="12" text-anchor="start" font-weight="normal" >K:76.1521</text>
<text x="217.6" y="618.7" fill="#e0dc30" font-size="12" text-anchor="start" font-weight="normal" >D:57.4967</text>
<text x="282" y="618.7" fill="#d02ee0" font-size="12" text-anchor="start" font-weight="normal" >J:113.4630</text>
<text x="105.5" y="747.5" fill="#f0f0f0" font-size="12" text-anchor="start" font-weight="bold" >2025/07</text>
<text x="313" y="747.5" fill="#f0f0f0" font-size="12" text-anchor="start" font-weight="bold" >2025/08</text>
<text x="502" y="747.5" fill="#f0f0f0" font-size="12" text-anchor="start" font-weight="bold" >2025/09</text>
<text x="700.4" y="747.5" fill="#f0f0f0" font-size="12" text-anchor="start" font-weight="bold" >2025/10</text>
<text x="907.2" y="747.5" fill="#f0f0f0" font-size="12" text-anchor="start" font-weight="bold" >2025/11</text>
<rect x="1105.5" y="323.5" width="68" height="17" fill="#000" stroke="#f0a040" stroke-width="1"/>
<text x="1108.5" y="336" fill="#f0a040" font-size="12.5" text-anchor="start" font-weight="normal" >0.5732</text>
<text x="9.5" y="18" fill="#c4c4c4" font-size="12" text-anchor="middle" font-family="Noto Sans CJK SC, sans-serif">分</text>
<text x="9.5" y="32" fill="#c4c4c4" font-size="12" text-anchor="middle" font-family="Noto Sans CJK SC, sans-serif">时</text>
<text x="9.5" y="46" fill="#c4c4c4" font-size="12" text-anchor="middle" font-family="Noto Sans CJK SC, sans-serif">图</text>
<text x="9.5" y="81.5" fill="#ffffff" font-size="12" text-anchor="middle" font-family="Noto Sans CJK SC, sans-serif">线</text>
<text x="9.5" y="95.5" fill="#ffffff" font-size="12" text-anchor="middle" font-family="Noto Sans CJK SC, sans-serif">图</text>
<text x="9.5" y="115.6" fill="#c4c4c4" font-size="12" text-anchor="middle" font-family="Noto Sans CJK SC, sans-serif">闪</text>
<text x="9.5" y="129.6" fill="#c4c4c4" font-size="12" text-anchor="middle" font-family="Noto Sans CJK SC, sans-serif">电</text>
<text x="9.5" y="143.6" fill="#c4c4c4" font-size="12" text-anchor="middle" font-family="Noto Sans CJK SC, sans-serif">图</text>
<text x="9.5" y="168.2" fill="#c4c4c4" font-size="12" text-anchor="middle" font-family="Noto Sans CJK SC, sans-serif">合</text>
<text x="9.5" y="182.2" fill="#c4c4c4" font-size="12" text-anchor="middle" font-family="Noto Sans CJK SC, sans-serif">约</text>
<text x="9.5" y="196.2" fill="#c4c4c4" font-size="12" text-anchor="middle" font-family="Noto Sans CJK SC, sans-serif">资</text>
<text x="9.5" y="210.2" fill="#c4c4c4" font-size="12" text-anchor="middle" font-family="Noto Sans CJK SC, sans-serif">料</text>
<text x="9.5" y="66" fill="#ffffff" font-size="11" text-anchor="middle" font-family="Liberation Serif, serif">K</text>
</g>
</svg>

<div id="dl">日线 <span style="font-size:13px;position:relative;top:0px;">▲</span></div>
<div id="tb">
<div style="width:39px;color:#fff;">指标</div>
<div class="o" style="width:38px;">模板</div>
<div class="ot" style="width:57px;">VIP指标</div>
<div style="width:40px;">标准</div>
<div class="m" style="width:39px;">BULL</div>
<div class="m" style="width:40px;">MACD</div>
<div class="o" style="width:62px;">另存模板</div>
<div style="width:63px;">管理模板</div>
</div>
<div id="wm">FX678</div>

</body></html>
